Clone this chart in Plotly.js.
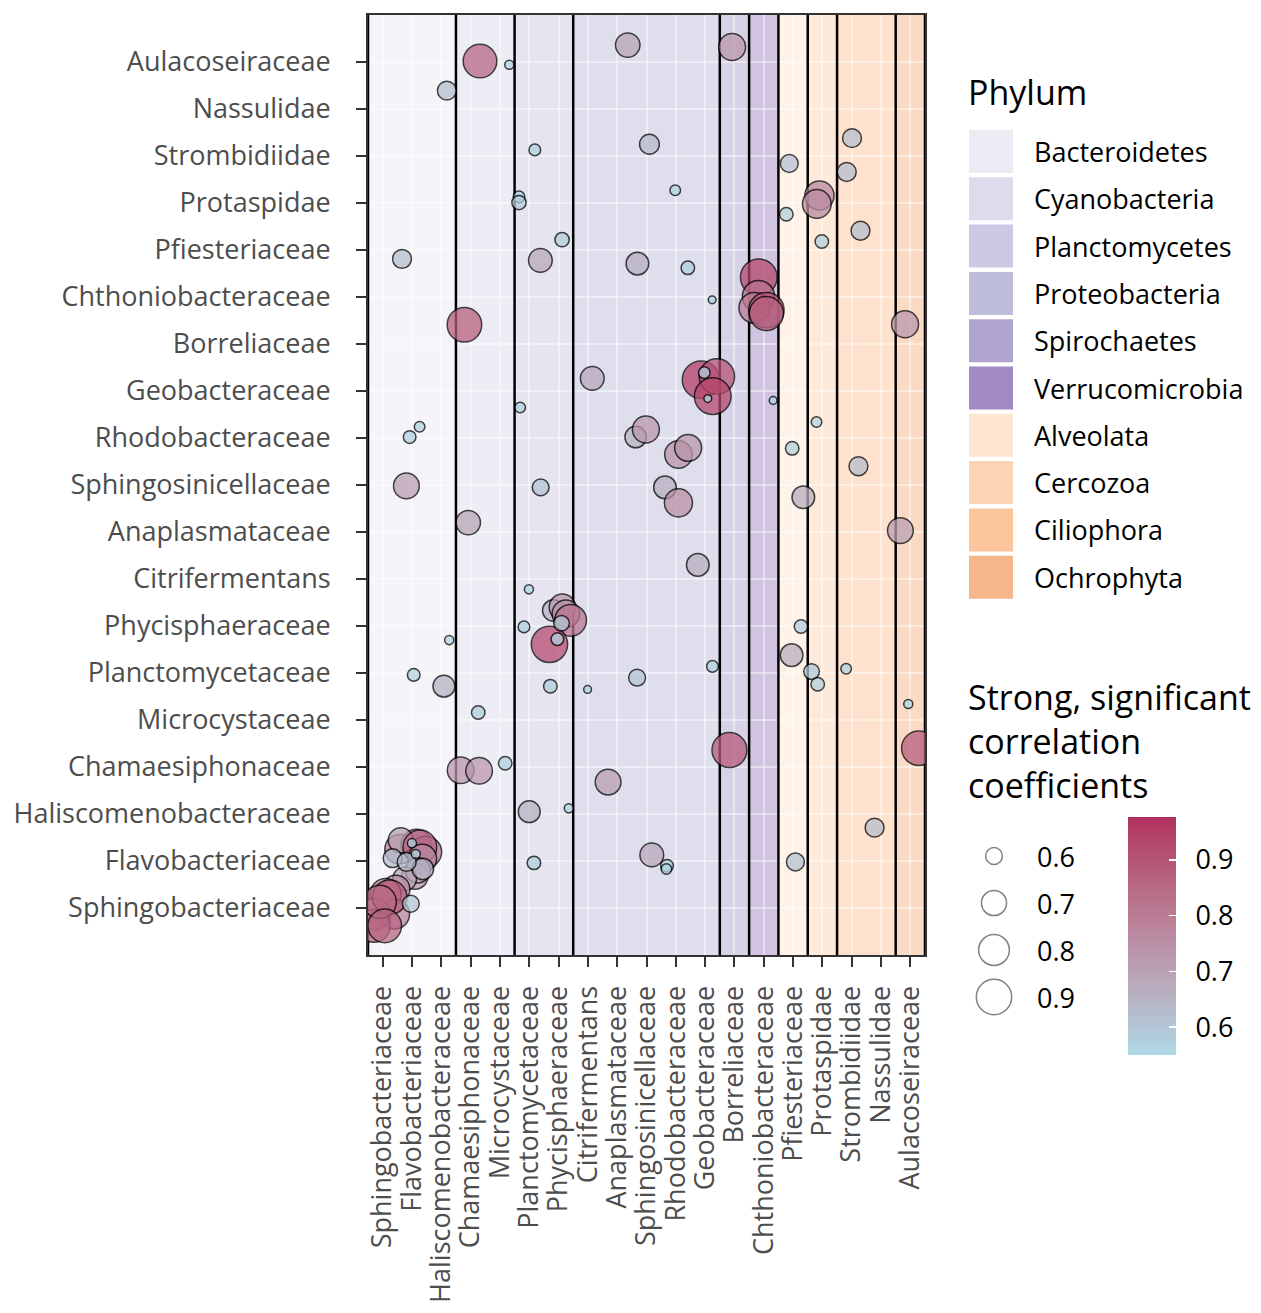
<!DOCTYPE html>
<html>
<head>
<meta charset="utf-8">
<script src="https://cdn.plot.ly/plotly-3.0.1.min.js"></script>
<style>html,body{margin:0;padding:0;background:#fff;}#chart{width:1261px;height:1313px;}</style>
</head>
<body>
<div id="chart"></div>
<script>
// ---------------- DATA ----------------
const categories = ["Sphingobacteriaceae","Flavobacteriaceae","Haliscomenobacteraceae","Chamaesiphonaceae","Microcystaceae","Planctomycetaceae","Phycisphaeraceae","Citrifermentans","Anaplasmataceae","Sphingosinicellaceae","Rhodobacteraceae","Geobacteraceae","Borreliaceae","Chthoniobacteraceae","Pfiesteriaceae","Protaspidae","Strombidiidae","Nassulidae","Aulacoseiraceae"];
const categoryPhylum = ["Bacteroidetes","Bacteroidetes","Bacteroidetes","Cyanobacteria","Cyanobacteria","Planctomycetes","Planctomycetes","Proteobacteria","Proteobacteria","Proteobacteria","Proteobacteria","Proteobacteria","Spirochaetes","Verrucomicrobia","Alveolata","Cercozoa","Ciliophora","Ciliophora","Ochrophyta"];
const phyla = ["Bacteroidetes","Cyanobacteria","Planctomycetes","Proteobacteria","Spirochaetes","Verrucomicrobia","Alveolata","Cercozoa","Ciliophora","Ochrophyta"];
const phylumColors = ["#ecebf4","#dcdcec","#cbcae2","#bdbddc","#b1a5cf","#a28ac2","#fee6d3","#fdd5b6","#fdc59c","#f6b68b"];
const sizeLegendValues = [0.6, 0.7, 0.8, 0.9];
const colorTickValues = [0.6, 0.7, 0.8, 0.9];

// points: x family, y family, jitter offsets, correlation coefficient
const ptX = [
 "Chamaesiphonaceae","Microcystaceae","Anaplasmataceae","Borreliaceae",
 "Haliscomenobacteraceae",
 "Planctomycetaceae","Sphingosinicellaceae","Pfiesteriaceae","Strombidiidae","Strombidiidae",
 "Planctomycetaceae","Planctomycetaceae","Rhodobacteraceae","Protaspidae","Protaspidae","Pfiesteriaceae",
 "Flavobacteriaceae","Phycisphaeraceae","Planctomycetaceae","Sphingosinicellaceae","Rhodobacteraceae","Protaspidae","Strombidiidae",
 "Geobacteraceae","Chthoniobacteraceae","Chthoniobacteraceae","Chthoniobacteraceae","Chthoniobacteraceae","Chthoniobacteraceae",
 "Chamaesiphonaceae","Aulacoseiraceae",
 "Citrifermentans","Geobacteraceae","Geobacteraceae","Geobacteraceae","Geobacteraceae","Geobacteraceae","Planctomycetaceae","Chthoniobacteraceae",
 "Flavobacteriaceae","Flavobacteriaceae","Sphingosinicellaceae","Sphingosinicellaceae","Rhodobacteraceae","Rhodobacteraceae","Pfiesteriaceae","Protaspidae",
 "Flavobacteriaceae","Planctomycetaceae","Rhodobacteraceae","Rhodobacteraceae","Pfiesteriaceae","Strombidiidae",
 "Chamaesiphonaceae","Aulacoseiraceae",
 "Geobacteraceae","Planctomycetaceae",
 "Phycisphaeraceae","Phycisphaeraceae","Phycisphaeraceae","Phycisphaeraceae","Phycisphaeraceae","Phycisphaeraceae","Phycisphaeraceae","Planctomycetaceae","Haliscomenobacteraceae","Pfiesteriaceae",
 "Flavobacteriaceae","Haliscomenobacteraceae","Phycisphaeraceae","Citrifermentans","Sphingosinicellaceae","Geobacteraceae","Pfiesteriaceae","Protaspidae","Protaspidae","Strombidiidae",
 "Chamaesiphonaceae","Aulacoseiraceae",
 "Chamaesiphonaceae","Chamaesiphonaceae","Microcystaceae","Anaplasmataceae","Borreliaceae","Aulacoseiraceae",
 "Planctomycetaceae","Phycisphaeraceae","Nassulidae",
 "Planctomycetaceae","Sphingosinicellaceae","Rhodobacteraceae","Rhodobacteraceae","Pfiesteriaceae",
 "Flavobacteriaceae","Flavobacteriaceae","Flavobacteriaceae","Flavobacteriaceae","Flavobacteriaceae","Flavobacteriaceae","Flavobacteriaceae","Flavobacteriaceae","Flavobacteriaceae","Flavobacteriaceae","Sphingobacteriaceae","Flavobacteriaceae","Flavobacteriaceae","Flavobacteriaceae",
 "Sphingobacteriaceae","Sphingobacteriaceae","Sphingobacteriaceae","Sphingobacteriaceae","Sphingobacteriaceae","Sphingobacteriaceae","Sphingobacteriaceae","Sphingobacteriaceae","Flavobacteriaceae"
];
const ptY = [
 "Aulacoseiraceae","Aulacoseiraceae","Aulacoseiraceae","Aulacoseiraceae",
 "Nassulidae",
 "Strombidiidae","Strombidiidae","Strombidiidae","Strombidiidae","Strombidiidae",
 "Protaspidae","Protaspidae","Protaspidae","Protaspidae","Protaspidae","Protaspidae",
 "Pfiesteriaceae","Pfiesteriaceae","Pfiesteriaceae","Pfiesteriaceae","Pfiesteriaceae","Pfiesteriaceae","Pfiesteriaceae",
 "Chthoniobacteraceae","Chthoniobacteraceae","Chthoniobacteraceae","Chthoniobacteraceae","Chthoniobacteraceae","Chthoniobacteraceae",
 "Borreliaceae","Borreliaceae",
 "Geobacteraceae","Geobacteraceae","Geobacteraceae","Geobacteraceae","Geobacteraceae","Geobacteraceae","Geobacteraceae","Geobacteraceae",
 "Rhodobacteraceae","Rhodobacteraceae","Rhodobacteraceae","Rhodobacteraceae","Rhodobacteraceae","Rhodobacteraceae","Rhodobacteraceae","Rhodobacteraceae",
 "Sphingosinicellaceae","Sphingosinicellaceae","Sphingosinicellaceae","Sphingosinicellaceae","Sphingosinicellaceae","Sphingosinicellaceae",
 "Anaplasmataceae","Anaplasmataceae",
 "Citrifermentans","Citrifermentans",
 "Phycisphaeraceae","Phycisphaeraceae","Phycisphaeraceae","Phycisphaeraceae","Phycisphaeraceae","Phycisphaeraceae","Phycisphaeraceae","Phycisphaeraceae","Phycisphaeraceae","Phycisphaeraceae",
 "Planctomycetaceae","Planctomycetaceae","Planctomycetaceae","Planctomycetaceae","Planctomycetaceae","Planctomycetaceae","Planctomycetaceae","Planctomycetaceae","Planctomycetaceae","Planctomycetaceae",
 "Microcystaceae","Microcystaceae",
 "Chamaesiphonaceae","Chamaesiphonaceae","Chamaesiphonaceae","Chamaesiphonaceae","Chamaesiphonaceae","Chamaesiphonaceae",
 "Haliscomenobacteraceae","Haliscomenobacteraceae","Haliscomenobacteraceae",
 "Flavobacteriaceae","Flavobacteriaceae","Flavobacteriaceae","Flavobacteriaceae","Flavobacteriaceae",
 "Flavobacteriaceae","Flavobacteriaceae","Flavobacteriaceae","Flavobacteriaceae","Flavobacteriaceae","Flavobacteriaceae","Flavobacteriaceae","Flavobacteriaceae","Flavobacteriaceae","Flavobacteriaceae","Flavobacteriaceae","Flavobacteriaceae","Flavobacteriaceae","Flavobacteriaceae",
 "Sphingobacteriaceae","Sphingobacteriaceae","Sphingobacteriaceae","Sphingobacteriaceae","Sphingobacteriaceae","Sphingobacteriaceae","Sphingobacteriaceae","Sphingobacteriaceae","Sphingobacteriaceae"
];
const ptDx = [
 0.32,0.32,0.36,-0.08,
 0.19,
 0.19,0.10,-0.13,0.01,-0.17,
 -0.35,-0.35,-0.02,-0.10,-0.19,-0.23,
 -0.34,0.12,0.38,-0.31,0.41,-0.02,0.30,
 0.24,-0.17,-0.18,-0.32,0.09,0.09,
 -0.21,-0.18,
 0.15,-0.14,0.40,0.26,-0.03,0.09,-0.31,0.32,
 -0.08,0.26,-0.37,-0.02,0.09,0.42,-0.03,-0.20,
 -0.19,0.39,-0.37,0.09,0.35,0.23,
 -0.08,-0.34,
 -0.25,-0.01,
 -0.18,0.13,0.25,0.41,-0.31,0.10,-0.04,-0.18,0.27,0.27,
 0.06,0.09,-0.28,-0.01,-0.32,0.25,-0.05,-0.37,-0.16,-0.19,
 0.26,-0.07,
 -0.34,0.29,0.18,-0.31,-0.17,0.29,
 0.00,0.35,-0.22,
 0.16,0.18,-0.30,-0.32,0.08,
 -0.42,0.15,-0.38,0.47,0.27,0.35,0.10,0.20,-0.25,0.37,0.34,-0.18,0.00,0.13,
 0.45,0.10,0.41,-0.27,-0.30,0.24,-0.10,0.07,-0.04
];
const ptDy = [
 0.02,-0.06,0.36,0.32,
 0.39,
 0.13,0.25,-0.16,0.38,-0.34,
 0.13,0.01,0.27,0.16,-0.02,-0.24,
 -0.19,0.22,-0.22,-0.29,-0.38,0.18,0.41,
 -0.06,0.42,0.01,-0.23,-0.28,-0.35,
 0.41,0.42,
 0.27,0.24,0.31,-0.11,0.39,-0.16,-0.35,-0.20,
 0.02,0.24,0.02,0.18,-0.35,-0.21,-0.22,0.34,
 -0.02,-0.05,-0.05,-0.38,-0.26,0.40,
 0.20,0.03,
 0.30,-0.22,
 0.33,0.40,0.26,0.12,-0.39,0.06,-0.28,-0.02,-0.30,-0.01,
 -0.04,-0.28,-0.28,-0.35,-0.10,0.14,0.38,0.03,-0.24,0.09,
 0.16,0.34,
 -0.07,-0.08,0.08,-0.32,0.36,0.40,
 0.05,0.12,-0.29,
 -0.04,0.13,-0.10,-0.17,-0.02,
 0.25,0.35,0.44,0.19,0.30,0.05,-0.32,-0.20,-0.38,-0.17,0.06,-0.02,0.38,0.15,
 0.40,0.30,-0.13,-0.13,-0.38,0.23,0.13,-0.38,0.09
];
const ptR = [
 0.86,0.555,0.69,0.73,
 0.62,
 0.565,0.63,0.61,0.62,0.62,
 0.565,0.58,0.56,0.77,0.76,0.575,
 0.62,0.58,0.68,0.665,0.575,0.575,0.62,
 0.552,0.93,0.83,0.80,0.90,0.87,
 0.88,0.73,
 0.68,0.95,0.90,0.93,0.565,0.552,0.56,0.552,
 0.57,0.56,0.65,0.73,0.74,0.73,0.575,0.56,
 0.71,0.60,0.665,0.75,0.665,0.62,
 0.69,0.71,
 0.665,0.555,
 0.65,0.72,0.74,0.82,0.92,0.59,0.57,0.565,0.555,0.575,
 0.57,0.655,0.575,0.552,0.60,0.565,0.665,0.59,0.575,0.56,
 0.575,0.555,
 0.725,0.725,0.575,0.71,0.89,0.88,
 0.655,0.555,0.62,
 0.575,0.68,0.57,0.56,0.61,
 0.78,0.80,0.70,0.82,0.86,0.76,0.72,0.70,0.68,0.65,0.62,0.62,0.555,0.555,
 0.75,0.80,0.78,0.82,0.84,0.88,0.85,0.86,0.60
];

// ---------------- SCALES ----------------
const rMin = 0.55, rMax = 0.977;
const lineW = 1.5;
function sizeOf(v){ const t = Math.max(0,(v - rMin)/(rMax - rMin)); return 7 + 33*Math.sqrt(t) - lineW; }

// Lab interpolation between lightblue and maroon (like ggplot's gradient)
function hex2rgb(h){h=h.replace('#','');return [0,2,4].map(i=>parseInt(h.substr(i,2),16));}
function toLin(c){c/=255;return c<=0.04045?c/12.92:Math.pow((c+0.055)/1.055,2.4);}
function toS(c){c=c<=0.0031308?12.92*c:1.055*Math.pow(c,1/2.4)-0.055;return Math.round(Math.max(0,Math.min(1,c))*255);}
function rgb2lab(rgb){const [r,g,b]=rgb.map(toLin);
 const X=(0.4124*r+0.3576*g+0.1805*b)/0.95047,Y=(0.2126*r+0.7152*g+0.0722*b),Z=(0.0193*r+0.1192*g+0.9505*b)/1.08883;
 const f=t=>t>0.008856?Math.cbrt(t):7.787*t+16/116;
 return [116*f(Y)-16,500*(f(X)-f(Y)),200*(f(Y)-f(Z))];}
function lab2rgb(lab){const fy=(lab[0]+16)/116,fx=fy+lab[1]/500,fz=fy-lab[2]/200;
 const fi=t=>t*t*t>0.008856?t*t*t:(t-16/116)/7.787;
 const X=fi(fx)*0.95047,Y=fi(fy),Z=fi(fz)*1.08883;
 const r=3.2406*X-1.5372*Y-0.4986*Z,g=-0.9689*X+1.8758*Y+0.0415*Z,b=0.0557*X-0.2040*Y+1.0570*Z;
 return 'rgb('+toS(r)+','+toS(g)+','+toS(b)+')';}
const lowLab = rgb2lab(hex2rgb('#ADD8E6')), highLab = rgb2lab(hex2rgb('#B03060'));
const colorscale = [];
for(let i=0;i<=10;i++){const t=i/10;colorscale.push([t,lab2rgb(lowLab.map((v,k)=>v+(highLab[k]-v)*t))]);}

// ---------------- GEOMETRY ----------------
const W=1261,H=1313, mL=368, mR=10, mT=15, mB=253;
const pw=W-mL-mR, ph=H-mT-mB;
const PX = px => (px - mL)/pw;
const PY = py => (H - mB - py)/ph;
const plotRight = 925, plotBottom = 955;

const idx = name => categories.indexOf(name);
const xs = ptX.map((c,i)=>idx(c)+ptDx[i]);
const ys = ptY.map((c,i)=>idx(c)+ptDy[i]);

// bands + boundaries
const shapes = [];
const bounds = [];
let start = 0;
for(let i=1;i<=categories.length;i++){
  if(i===categories.length || categoryPhylum[i]!==categoryPhylum[start]){
    const p = phyla.indexOf(categoryPhylum[start]);
    shapes.push({type:'rect',xref:'x',yref:'y domain',x0:start-0.5,x1:i-0.5,y0:0,y1:1,
      fillcolor:phylumColors[p],opacity:0.5,line:{width:0},layer:'below'});
    bounds.push(start-0.5);
    start = i;
  }
}
bounds.push(categories.length-0.5);
const bx=[], by=[];
bounds.forEach(b=>{bx.push(b,b,null);by.push(-1,categories.length,null);});

// phylum legend
const annotations = [];
const font = "Open Sans, Liberation Sans, sans-serif";
annotations.push({xref:'paper',yref:'paper',x:PX(966),y:PY(92),xanchor:'left',yanchor:'middle',
  text:'Phylum',showarrow:false,font:{family:font,size:34,color:'#000'}});
phyla.forEach((p,i)=>{
  const top=130+47.3*i;
  shapes.push({type:'rect',xref:'paper',yref:'paper',x0:PX(969),x1:PX(1013),y0:PY(top+43),y1:PY(top),
    fillcolor:phylumColors[i],line:{width:0},layer:'above'});
  annotations.push({xref:'paper',yref:'paper',x:PX(1032),y:PY(top+21.5),xanchor:'left',yanchor:'middle',
    text:p,showarrow:false,font:{family:font,size:27,color:'#000'}});
});
// size legend title
annotations.push({xref:'paper',yref:'paper',x:PX(966),y:PY(741),xanchor:'left',yanchor:'middle',align:'left',
  text:'Strong, significant<br>correlation<br>coefficients',showarrow:false,font:{family:font,size:34,color:'#000'}});
sizeLegendValues.forEach((v,i)=>{
  annotations.push({xref:'x2',yref:'y2',x:0,y:i,xshift:41,xanchor:'left',yanchor:'middle',
    text:v.toFixed(1),showarrow:false,font:{family:font,size:27,color:'#000'}});
});

const traces = [{
  type:'scatter',mode:'lines',x:bx,y:by,hoverinfo:'skip',showlegend:false,
  line:{color:'#000',width:2.5}
},{
  type:'scatter',mode:'markers',x:xs,y:ys,hoverinfo:'skip',showlegend:false,cliponaxis:true,
  marker:{size:ptR.map(sizeOf),color:ptR,colorscale:colorscale,cmin:rMin,cmax:rMax,opacity:0.74,
    line:{color:'#000',width:lineW},
    showscale:true,
    colorbar:{x:PX(1128),xanchor:'left',y:PY(1055),yanchor:'bottom',len:238,lenmode:'pixels',
      thickness:48,thicknessmode:'pixels',xpad:0,ypad:0,outlinewidth:0,
      tickvals:colorTickValues,ticktext:colorTickValues.map(v=>'\u2002'+v.toFixed(1)),
      ticks:'inside',ticklen:7,tickwidth:1.5,tickcolor:'#ffffff',
      tickfont:{family:font,size:27,color:'#000'}}}
},{
  type:'scatter',mode:'markers',x:sizeLegendValues.map(()=>0),y:sizeLegendValues.map((v,i)=>i),
  xaxis:'x2',yaxis:'y2',hoverinfo:'skip',showlegend:false,
  marker:{size:sizeLegendValues.map(sizeOf),color:'rgba(255,255,255,0)',line:{color:'rgba(0,0,0,0.7)',width:lineW}}
}];

const tickFont = {family:font,size:27,color:'#4d4d4d'};
const layout = {
  width:W,height:H,margin:{l:mL,r:mR,t:mT,b:mB,pad:0},
  paper_bgcolor:'#fff',plot_bgcolor:'#fff',showlegend:false,hovermode:false,
  xaxis:{domain:[0,PX(plotRight)],range:[-0.5,categories.length-0.5],
    tickvals:categories.map((c,i)=>i),ticktext:categories,tickangle:-90,tickfont:tickFont,
    ticks:'outside',ticklen:10,tickwidth:2,tickcolor:'#333',ticklabelstandoff:8,
    showline:true,linecolor:'#333',linewidth:2,mirror:true,zeroline:false,
    showgrid:true,gridcolor:'rgba(255,255,255,0.45)',gridwidth:2,automargin:false,fixedrange:true},
  yaxis:{domain:[PY(plotBottom),1],range:[-1,categories.length],
    tickvals:categories.map((c,i)=>i),ticktext:categories,tickfont:tickFont,
    ticks:'outside',ticklen:10,tickwidth:2,tickcolor:'#333',ticklabelstandoff:20,
    showline:true,linecolor:'#333',linewidth:2,mirror:true,zeroline:false,
    showgrid:true,gridcolor:'rgba(255,255,255,0.45)',gridwidth:2,automargin:false,fixedrange:true},
  xaxis2:{domain:[PX(970),PX(1018)],range:[-1,1],visible:false,anchor:'y2',fixedrange:true},
  yaxis2:{domain:[PY(1020.5),PY(832.5)],range:[3.5,-0.5],visible:false,anchor:'x2',fixedrange:true},
  shapes:shapes,annotations:annotations
};
Plotly.newPlot('chart',traces,layout,{staticPlot:true,displayModeBar:false});
</script>
</body>
</html>
